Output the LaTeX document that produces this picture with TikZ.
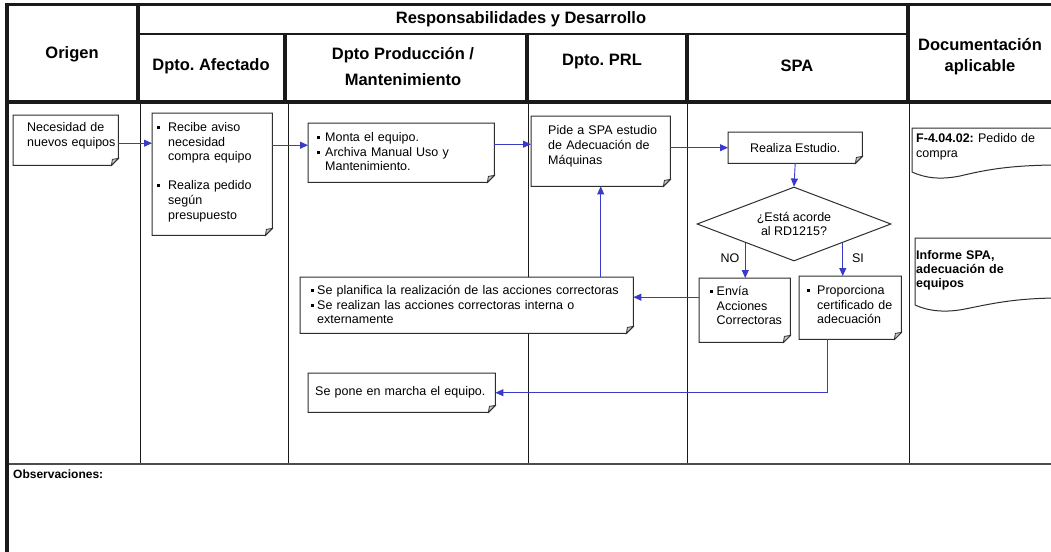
\documentclass[tikz,border=0pt]{standalone}
\usepackage{fontspec}
\setmainfont{Liberation Sans}
\usetikzlibrary{arrows.meta,shapes.geometric,calc}
\frenchspacing

\definecolor{flowblue}{HTML}{3A3AC8}
\definecolor{edge}{HTML}{2E2E2E}
\definecolor{foldgray}{HTML}{C8C8C8}
\definecolor{rule}{HTML}{1A1A1A}

% bulleted entry with hanging indent
\newcommand\bitem[2][8pt]{\par\noindent\hangindent=#1\hangafter=1\makebox[#1][l]{\raisebox{2.6pt}{\rule{3pt}{3pt}}}#2\par}

\tikzset{
  body/.style={font=\fontsize{12.5}{14.7}\selectfont},
  head/.style={font=\fontsize{16.5}{26}\selectfont\bfseries, align=center, inner sep=0},
  frame/.style={draw=none, inner sep=0, anchor=north west, body},
  txt/.style={anchor=north west, inner sep=0, align=left, body},
  flow/.style={draw=flowblue, line width=0.9pt, -{Triangle[length=8pt,width=7pt]}},
  noteline/.style={draw=edge, line width=1pt, fill=white},
  docline/.style={draw=edge, line width=1pt},
  thick rule/.style={draw=rule, line width=3.5pt},
  thin rule/.style={draw=rule, line width=1pt},
}

\begin{document}
\begin{tikzpicture}[x=1pt, y=-1pt]
\path[use as bounding box] (0,0) rectangle (1051,551);
\clip (0,0) rectangle (1051,551);
\fill[white] (0,0) rectangle (1051,551);

% ---- table grid ----
\draw[thin rule] (140,102) -- (140,464);
\draw[thin rule] (288,102) -- (288,464);
\draw[thin rule] (528,102) -- (528,464);
\draw[thin rule] (687,102) -- (687,464);
\draw[thin rule] (909,102) -- (909,464);
\draw[draw=black!70, line width=1.5pt] (7,464) -- (1060,464);

\draw[draw=rule, line width=3pt] (7,5) -- (1060,5);
\draw[draw=rule, line width=2.2pt] (138,34) -- (908,34);
\draw[thick rule] (7,102) -- (1060,102);
\draw[thick rule] (138,5) -- (138,102);
\draw[thick rule] (908,5) -- (908,102);
\draw[thick rule] (285,34) -- (285,102);
\draw[thick rule] (527,34) -- (527,102);
\draw[thick rule] (687,34) -- (687,102);
\draw[draw=rule, line width=4pt] (7,3.5) -- (7,560);

% ---- header ----
\node[head] (hOrigen) at (72,54) {Origen};
\node[head] (hResp) at (521,19) {Responsabilidades y Desarrollo};
\node[head] (hAfect) at (211,66) {Dpto. Afectado};
\node[head] (hProd) at (403,67) {Dpto Producción /\\Mantenimiento};
\node[head] (hPRL) at (602,62) {Dpto. PRL};
\node[head] (hSPA) at (797,66) {SPA};
\node[head, font=\fontsize{16.5}{21}\selectfont\bfseries] (hDoc) at (980,57) {Documentación\\aplicable};

\node[anchor=west, inner sep=0, font=\fontsize{12}{14}\selectfont\bfseries] (obs) at (13,474) {Observaciones:};

% ---- process boxes ----
\node[frame, minimum width=105pt, minimum height=50pt] (b1) at (13,115) {};
\node[frame, minimum width=120pt, minimum height=122pt] (b2) at (152,113) {};
\node[frame, minimum width=186pt, minimum height=59pt] (b3) at (308,123) {};
\node[frame, minimum width=139pt, minimum height=70pt] (b4) at (531,116) {};
\node[frame, minimum width=134pt, minimum height=31pt] (b5) at (728,132) {};
\node[frame, minimum width=91pt, minimum height=64pt] (b7) at (699,278) {};
\node[frame, minimum width=102pt, minimum height=63pt] (b8) at (799,276) {};
\node[frame, minimum width=333pt, minimum height=56pt] (b9) at (300,277) {};
\node[frame, minimum width=187pt, minimum height=39pt] (b10) at (308,373) {};

\foreach \n in {b1,b2,b3,b4,b5,b7,b8,b9,b10}{
  \path[noteline] (\n.north west) -- (\n.north east) -- ([yshift=7pt]\n.south east)
    -- ([xshift=-7pt]\n.south east) -- (\n.south west) -- cycle;
  \path[draw=edge, line width=0.8pt, fill=foldgray] ([yshift=7pt]\n.south east)
    -- ([xshift=-7pt]\n.south east) -- ([xshift=-6pt,yshift=6pt]\n.south east) -- cycle;
}

\node[diamond, draw=edge, line width=1pt, fill=white, minimum width=194pt, minimum height=74pt,
      aspect=2.62, inner sep=0, align=center, body] (dia) at (794,224) {¿Está acorde\\al RD1215?};

% ---- box texts ----
\node[txt, text width=95pt] (t1) at (27,122.5) {Necesidad de\\nuevos equipos};
\node[txt, text width=115pt] (t2) at (156.5,116.5) {%
  \bitem[11.5pt]{Recibe aviso\newline necesidad\newline compra equipo}\vspace{14.3pt}%
  \bitem[11.5pt]{Realiza pedido\newline según\newline presupuesto}};
\node[txt, text width=175pt] (t3) at (316.5,126.5) {%
  \bitem[8.5pt]{Monta el equipo.}%
  \bitem[8.5pt]{Archiva Manual Uso y\newline Mantenimiento.}};
\node[txt, text width=125pt] (t4) at (548,125.5) {Pide a SPA estudio\\de Adecuación de\\Máquinas};
\node[body, inner sep=0] (t5) at (b5.center) {Realiza Estudio.};
\node[txt, text width=85pt] (t7) at (709.5,280.5) {%
  \bitem[7pt]{Envía\newline Acciones\newline Correctoras}};
\node[txt, text width=95pt] (t8) at (806.5,279.5) {%
  \bitem[10.5pt]{Proporciona\newline certificado de\newline adecuación}};
\node[txt, text width=325pt] (t9) at (310.5,279.5) {%
  \bitem[6.5pt]{Se planifica la realización de las acciones correctoras}%
  \bitem[6.5pt]{Se realizan las acciones correctoras interna o\newline externamente}};
\node[txt, text width=180pt] (t10) at (315,386.5) {Se pone en marcha el equipo.};

\node[body, inner sep=0] (lNO) at (730,258) {NO};
\node[body, inner sep=0] (lSI) at (858,258) {SI};

% ---- documents ----
\path[docline, fill=white] (912,172) -- (912,128) -- (1060,128) -- (1060,165)
  .. controls (1010,165) and (985,170) .. (960,176)
  .. controls (940,180) and (925,178) .. (912,172) -- cycle;
\node[txt, text width=135pt] (d1) at (916,133.5) {\textbf{F-4.04.02:} Pedido de\\compra};

\path[docline, fill=white] (915,305) -- (915,238) -- (1060,238) -- (1060,298)
  .. controls (1015,298) and (990,304) .. (965,309)
  .. controls (945,313) and (928,311) .. (915,305) -- cycle;
\node[txt, text width=135pt, font=\fontsize{12.5}{14}\selectfont\bfseries] (d2) at (916,250.5)
  {Informe SPA,\\adecuación de\\equipos};

% ---- connectors ----
\draw[flow] ([yshift=-3pt]b1.east) -- ([yshift=-3pt]b1.east -| b2.west);
\draw[flow] ([yshift=7.5pt]b3.west -| b2.east) -- ([yshift=7.5pt]b3.west);
\draw[flow] ([yshift=7pt]b4.west -| b3.east) -- ([yshift=7pt]b4.west);
\draw[flow] (b5.west -| b4.east) -- (b5.west);
\draw[flow] (b5.south) -- (dia.north);
\draw[flow] (dia.south west) -- (dia.south west |- b7.north);
\draw[flow] (dia.south east) -- (dia.south east |- b8.north);
\draw[flow] ([yshift=8pt]b9.east -| b7.west) -- ([yshift=8pt]b9.east);
\draw[flow] (b4.south |- b9.north) -- (b4.south);
\draw[flow] ([xshift=-23pt]b8.south) |- (b10.east);
\end{tikzpicture}
\end{document}
